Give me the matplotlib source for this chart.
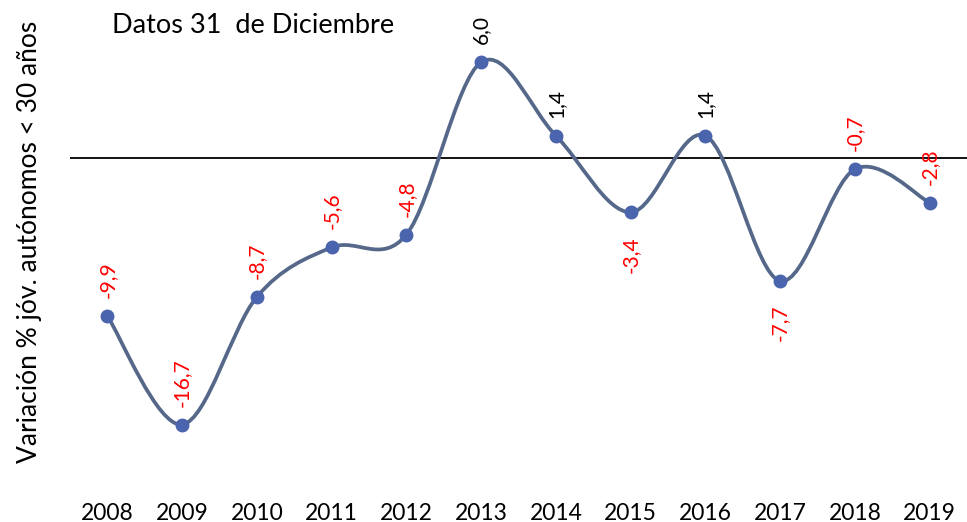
import matplotlib.pyplot as plt
import numpy as np
from matplotlib.path import Path
from matplotlib.patches import PathPatch

plt.rcParams['font.family'] = ['Lato', 'DejaVu Sans']

years = ['2008', '2009', '2010', '2011', '2012', '2013', '2014', '2015', '2016', '2017', '2018', '2019']
values = [-9.9, -16.7, -8.7, -5.6, -4.8, 6.0, 1.4, -3.4, 1.4, -7.7, -0.7, -2.8]
below = ['2015', '2017']  # labels drawn under the point

line_color = '#56688a'
marker_color = '#4a64ad'

fig = plt.figure(figsize=(9.67, 5.22), dpi=100)
ax = fig.add_axes([0.0724, 0.0613, 0.9276, 0.9387])

x = np.arange(len(values))
y = np.array(values)

# smoothed line (Excel-like Catmull-Rom bezier)
verts = [(x[0], y[0])]
codes = [Path.MOVETO]
n = len(x)
for i in range(n - 1):
    p0 = np.array([x[max(i - 1, 0)], y[max(i - 1, 0)]])
    p1 = np.array([x[i], y[i]])
    p2 = np.array([x[i + 1], y[i + 1]])
    p3 = np.array([x[min(i + 2, n - 1)], y[min(i + 2, n - 1)]])
    c1 = p1 + (p2 - p0) / 6
    c2 = p2 - (p3 - p1) / 6
    verts += [tuple(c1), tuple(c2), tuple(p2)]
    codes += [Path.CURVE4] * 3
ax.add_patch(PathPatch(Path(verts, codes), fill=False, edgecolor=line_color,
                       lw=2.7, capstyle='round', joinstyle='round', zorder=3))
ax.plot(x, y, 'o', color=marker_color, markersize=9, zorder=4)

ax.axhline(0, color='black', lw=1.3, zorder=2)

for xi, yi, yr in zip(x, y, years):
    col = 'red' if yi < 0 else 'black'
    txt = ('%.1f' % yi).replace('.', ',')
    if yr in below:
        ax.annotate(txt, (xi, yi), xytext=(0, -17), textcoords='offset points',
                    rotation=90, ha='center', va='top', color=col, fontsize=15)
    else:
        ax.annotate(txt, (xi, yi), xytext=(0, 13), textcoords='offset points',
                    rotation=90, ha='center', va='bottom', color=col, fontsize=15)

ax.set_xlim(-0.5, len(values) - 0.5)
ax.set_ylim(-20.8, 9.9)
ax.set_xticks(x)
ax.set_xticklabels(years, fontsize=16.5)
ax.tick_params(axis='x', length=0, pad=9)
ax.set_yticks([])
for s in ax.spines.values():
    s.set_visible(False)

fig.text(0.031, 0.536, 'Variación % jóv. autónomos < 30 años', rotation=90,
         ha='center', va='center', fontsize=19)
fig.text(0.116, 0.952, 'Datos 31  de Diciembre', ha='left', va='center', fontsize=19.5)

fig.savefig('out.png', dpi=100)
